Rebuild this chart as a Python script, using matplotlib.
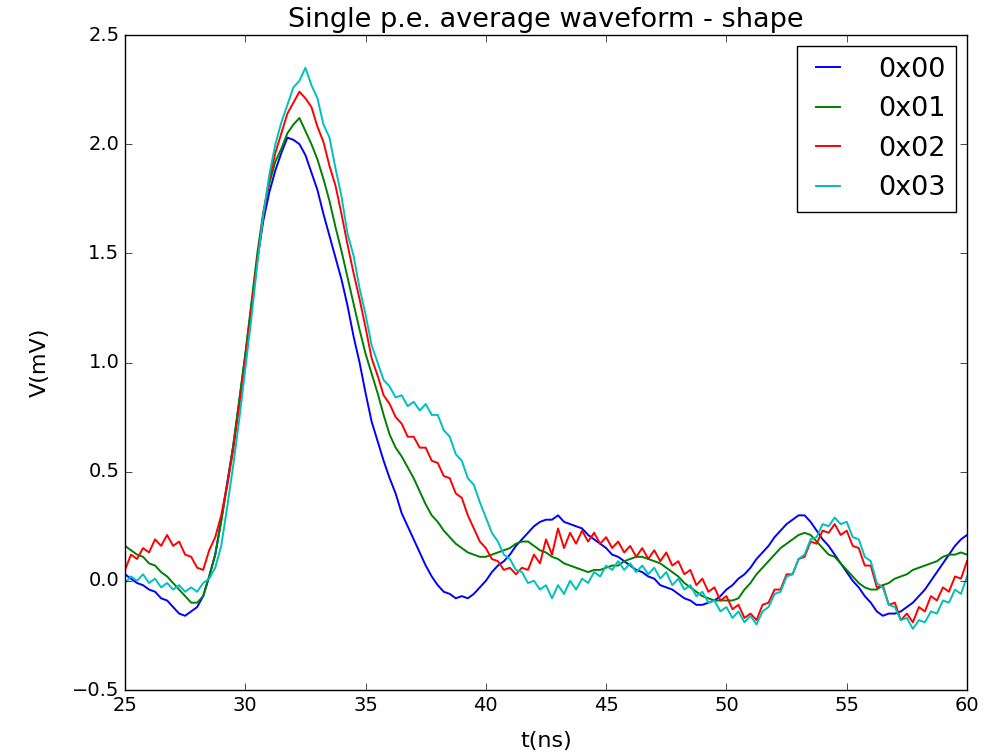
import numpy as np
import matplotlib
matplotlib.use("Agg")
import matplotlib.pyplot as plt

plt.style.use('classic')

T_START, T_END = 25.0, 60.0

labels = ["0x00", "0x01", "0x02", "0x03"]
colors = ["b", "g", "r", "c"]

v_0x00 = [
    0.03, 0.01, -0.01, -0.02, -0.04, -0.05, -0.08, -0.09, -0.12, -0.15,
    -0.16, -0.14, -0.12, -0.07, 0.02, 0.12, 0.28, 0.45, 0.62, 0.82,
    1.03, 1.25, 1.47, 1.65, 1.78, 1.88, 1.96, 2.03, 2.02, 2.00,
    1.95, 1.87, 1.79, 1.68, 1.58, 1.48, 1.38, 1.26, 1.12, 1.00,
    0.86, 0.73, 0.64, 0.55, 0.47, 0.40, 0.31, 0.25, 0.19, 0.13,
    0.07, 0.02, -0.02, -0.05, -0.06, -0.08, -0.07, -0.08, -0.06, -0.03,
    0.00, 0.04, 0.07, 0.09, 0.12, 0.16, 0.19, 0.22, 0.25, 0.27,
    0.28, 0.28, 0.30, 0.27, 0.26, 0.25, 0.24, 0.21, 0.19, 0.17,
    0.15, 0.12, 0.11, 0.09, 0.07, 0.05, 0.04, 0.02, 0.01, -0.02,
    -0.03, -0.04, -0.06, -0.08, -0.09, -0.11, -0.11, -0.10, -0.09, -0.07,
    -0.04, -0.02, 0.01, 0.03, 0.06, 0.10, 0.13, 0.16, 0.20, 0.23,
    0.26, 0.28, 0.30, 0.30, 0.27, 0.23, 0.19, 0.16, 0.12, 0.08,
    0.04, 0.00, -0.03, -0.07, -0.10, -0.14, -0.16, -0.15, -0.15, -0.14,
    -0.12, -0.10, -0.07, -0.04, 0.00, 0.04, 0.08, 0.12, 0.16, 0.19,
    0.21,
]

v_0x01 = [
    0.16, 0.14, 0.12, 0.11, 0.08, 0.07, 0.04, 0.02, -0.01, -0.04,
    -0.07, -0.10, -0.10, -0.07, 0.02, 0.12, 0.27, 0.44, 0.62, 0.83,
    1.04, 1.27, 1.50, 1.69, 1.82, 1.92, 1.98, 2.05, 2.09, 2.12,
    2.06, 2.00, 1.93, 1.84, 1.74, 1.62, 1.51, 1.39, 1.27, 1.15,
    1.04, 0.95, 0.86, 0.76, 0.67, 0.61, 0.57, 0.52, 0.47, 0.41,
    0.35, 0.30, 0.27, 0.23, 0.20, 0.17, 0.15, 0.13, 0.12, 0.11,
    0.11, 0.12, 0.13, 0.14, 0.15, 0.17, 0.18, 0.18, 0.16, 0.14,
    0.13, 0.11, 0.10, 0.08, 0.07, 0.06, 0.05, 0.04, 0.05, 0.05,
    0.06, 0.07, 0.07, 0.09, 0.10, 0.11, 0.11, 0.10, 0.09, 0.08,
    0.06, 0.04, 0.02, -0.01, -0.03, -0.05, -0.07, -0.08, -0.09, -0.09,
    -0.09, -0.09, -0.08, -0.04, -0.01, 0.03, 0.06, 0.09, 0.12, 0.15,
    0.17, 0.19, 0.21, 0.22, 0.21, 0.18, 0.15, 0.12, 0.11, 0.08,
    0.05, 0.02, -0.01, -0.03, -0.04, -0.04, -0.02, -0.01, 0.01, 0.02,
    0.03, 0.05, 0.06, 0.07, 0.08, 0.09, 0.11, 0.12, 0.12, 0.13,
    0.12,
]

v_0x02 = [
    0.05, 0.12, 0.10, 0.15, 0.13, 0.19, 0.16, 0.21, 0.16, 0.18,
    0.12, 0.11, 0.06, 0.05, 0.14, 0.20, 0.30, 0.44, 0.60, 0.80,
    1.01, 1.24, 1.47, 1.68, 1.84, 1.96, 2.05, 2.14, 2.19, 2.24,
    2.21, 2.17, 2.08, 2.01, 1.90, 1.81, 1.68, 1.54, 1.41, 1.29,
    1.16, 1.02, 0.94, 0.85, 0.81, 0.75, 0.72, 0.66, 0.66, 0.61,
    0.61, 0.55, 0.54, 0.48, 0.47, 0.40, 0.38, 0.30, 0.24, 0.18,
    0.15, 0.10, 0.09, 0.05, 0.06, 0.03, 0.06, 0.05, 0.12, 0.08,
    0.19, 0.12, 0.24, 0.15, 0.22, 0.17, 0.23, 0.18, 0.22, 0.17,
    0.20, 0.15, 0.18, 0.13, 0.16, 0.11, 0.15, 0.10, 0.14, 0.09,
    0.13, 0.07, 0.09, 0.03, 0.05, -0.02, 0.01, -0.05, -0.03, -0.09,
    -0.07, -0.13, -0.11, -0.17, -0.15, -0.18, -0.11, -0.10, -0.04, -0.04,
    0.03, 0.03, 0.10, 0.11, 0.18, 0.17, 0.23, 0.22, 0.26, 0.21,
    0.23, 0.16, 0.15, 0.07, 0.07, -0.03, -0.02, -0.11, -0.10, -0.18,
    -0.15, -0.19, -0.12, -0.14, -0.07, -0.09, -0.03, -0.05, 0.02, 0.01,
    0.09,
]

v_0x03 = [
    -0.01, 0.02, 0.00, 0.03, -0.01, 0.01, -0.03, -0.01, -0.04, -0.02,
    -0.05, -0.03, -0.05, -0.01, 0.01, 0.06, 0.16, 0.34, 0.53, 0.74,
    0.97, 1.20, 1.45, 1.68, 1.86, 2.00, 2.10, 2.18, 2.26, 2.29,
    2.35, 2.27, 2.21, 2.09, 2.03, 1.89, 1.76, 1.59, 1.49, 1.34,
    1.22, 1.08, 1.00, 0.92, 0.89, 0.84, 0.85, 0.80, 0.82, 0.78,
    0.81, 0.76, 0.76, 0.69, 0.66, 0.58, 0.55, 0.47, 0.44, 0.36,
    0.29, 0.22, 0.18, 0.12, 0.10, 0.05, 0.04, -0.01, 0.00, -0.04,
    -0.02, -0.08, -0.02, -0.06, 0.00, -0.04, 0.01, -0.01, 0.04, 0.02,
    0.07, 0.05, 0.09, 0.05, 0.08, 0.04, 0.07, 0.03, 0.06, 0.01,
    0.04, -0.02, 0.01, -0.04, -0.02, -0.07, -0.05, -0.10, -0.09, -0.14,
    -0.12, -0.17, -0.14, -0.19, -0.16, -0.20, -0.14, -0.12, -0.06, -0.05,
    0.02, 0.03, 0.10, 0.12, 0.19, 0.20, 0.26, 0.25, 0.29, 0.26,
    0.27, 0.20, 0.19, 0.11, 0.09, -0.01, -0.03, -0.11, -0.12, -0.18,
    -0.17, -0.22, -0.18, -0.19, -0.14, -0.15, -0.09, -0.10, -0.04, -0.06,
    0.02,
]

series = [v_0x00, v_0x01, v_0x02, v_0x03]

fig = plt.figure(figsize=(10.05, 7.55), dpi=100, facecolor='white')
ax = fig.add_axes([125/1005, 1 - 690/755, (967-125)/1005, (690-35)/755])

for vals, lab, col in zip(series, labels, colors):
    t = np.linspace(T_START, T_END, len(vals))
    ax.plot(t, vals, color=col, lw=1.4, label=lab)

ax.set_xlim(25, 60)
ax.set_ylim(-0.5, 2.5)
ax.set_xticks([25, 30, 35, 40, 45, 50, 55, 60])
ax.set_yticks([-0.5, 0.0, 0.5, 1.0, 1.5, 2.0, 2.5])
ax.tick_params(labelsize=14, direction='in', length=5, top=True, right=True)
ax.set_title("Single p.e. average waveform - shape", fontsize=19.5, pad=6)
ax.set_xlabel("t(ns)", fontsize=16, labelpad=12)
ax.set_ylabel("V(mV)", fontsize=16, labelpad=16)
leg = ax.legend(loc='upper right', fontsize=19.5, frameon=True,
                handlelength=1.5, handletextpad=1.1, borderaxespad=0.4)
leg.get_frame().set_edgecolor('black')

fig.savefig("out.png", dpi=100, facecolor='white')
